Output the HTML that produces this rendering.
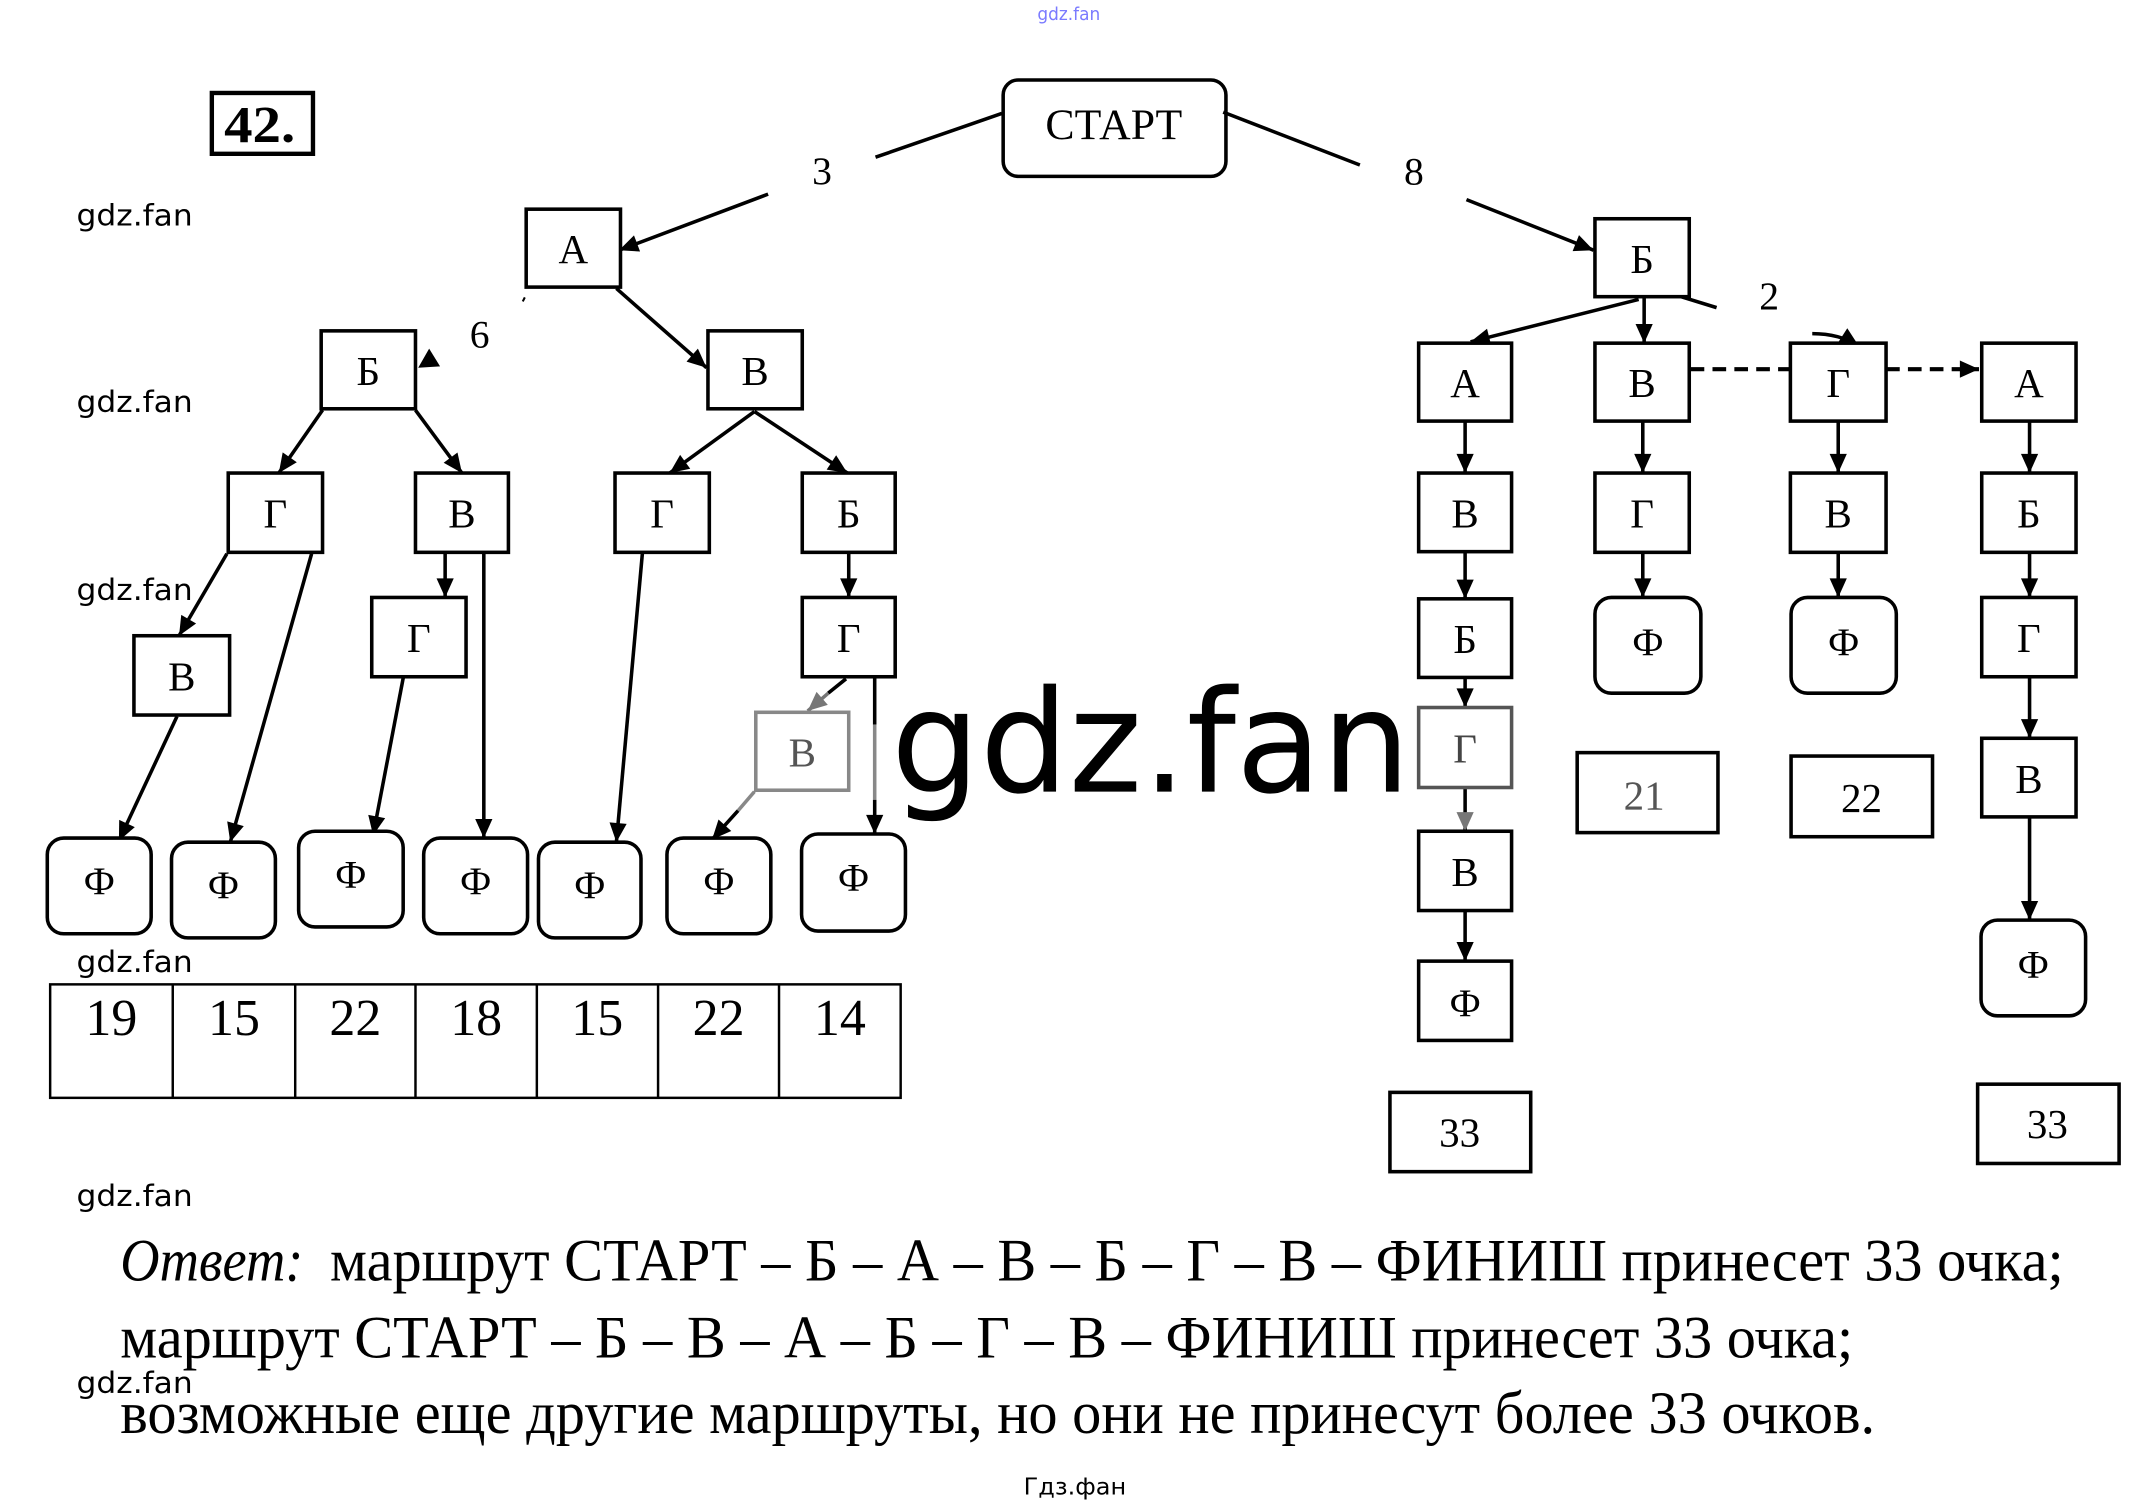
<!DOCTYPE html>
<html><head><meta charset="utf-8"><style>
html,body{margin:0;padding:0;background:#fff;}
svg{display:block;}
.n{font-family:"Liberation Serif","DejaVu Serif",serif;font-size:30px;text-anchor:middle;fill:#000;}
.f{font-family:"Liberation Serif","DejaVu Serif",serif;font-size:29px;text-anchor:middle;fill:#000;}
.w{font-family:"DejaVu Sans","Liberation Sans",sans-serif;font-size:21.5px;fill:#000;}
.t{font-family:"Liberation Serif","DejaVu Serif",serif;font-size:44px;fill:#000;}
</style></head><body>
<svg width="2143" height="1508" viewBox="0 0 1568 1103" preserveAspectRatio="none" xmlns="http://www.w3.org/2000/svg">
<defs>
<marker id="ah" viewBox="0 0 10 10" refX="10" refY="5" markerUnits="userSpaceOnUse" markerWidth="15" markerHeight="14" orient="auto"><path d="M0,0.5 L10,5 L0,9.5 z" fill="#000"/></marker>
<marker id="ag" viewBox="0 0 10 10" refX="10" refY="5" markerUnits="userSpaceOnUse" markerWidth="15" markerHeight="14" orient="auto"><path d="M0,0.5 L10,5 L0,9.5 z" fill="#777"/></marker>
</defs>

<text x="759" y="14.5" font-family="DejaVu Sans, sans-serif" font-size="13" fill="#7a7aff" textLength="46" lengthAdjust="spacingAndGlyphs">gdz.fan</text>

<rect x="155" y="68" width="74" height="44.5" fill="none" stroke="#000" stroke-width="3.2"/>
<text x="164" y="104" font-family="Liberation Serif, serif" font-weight="bold" font-size="38" textLength="52" lengthAdjust="spacingAndGlyphs">42.</text>

<rect x="734" y="58.5" width="163" height="70.5" rx="11" fill="none" stroke="#000" stroke-width="2.6"/>
<text x="815" y="101.5" font-family="Liberation Serif, serif" font-size="32" text-anchor="middle">СТАРТ</text>

<g stroke="#000" stroke-width="2.6" fill="none">
<line x1="733" y1="83" x2="640.6" y2="115"/>
<line x1="562" y1="142" x2="453" y2="183" marker-end="url(#ah)"/>
<line x1="895" y1="82" x2="995" y2="120.7"/>
<line x1="1073" y1="146" x2="1166" y2="183" marker-end="url(#ah)"/>
<line x1="451" y1="211" x2="517" y2="269" marker-end="url(#ah)"/>
<line x1="382.5" y1="220.5" x2="384" y2="217.5" stroke-width="1.5"/>
<line x1="236" y1="300" x2="204" y2="346" marker-end="url(#ah)"/>
<line x1="304" y1="300" x2="338" y2="346" marker-end="url(#ah)"/>
<line x1="552" y1="301" x2="490" y2="346" marker-end="url(#ah)"/>
<line x1="552" y1="301" x2="620" y2="346" marker-end="url(#ah)"/>
<line x1="166" y1="405" x2="131" y2="465" marker-end="url(#ah)"/>
<line x1="228" y1="405" x2="168.5" y2="616" marker-end="url(#ah)"/>
<line x1="129.5" y1="524" x2="87" y2="615" marker-end="url(#ah)"/>
<line x1="325.7" y1="405" x2="325.7" y2="437" marker-end="url(#ah)"/>
<line x1="354" y1="405" x2="354" y2="613" marker-end="url(#ah)"/>
<line x1="295" y1="496" x2="273" y2="611" marker-end="url(#ah)"/>
<line x1="470" y1="405" x2="451" y2="616" marker-end="url(#ah)"/>
<line x1="621" y1="405" x2="621" y2="437" marker-end="url(#ah)"/>
<line x1="619" y1="496.5" x2="606" y2="507"/>
<line x1="606" y1="507" x2="591" y2="520" stroke="#777" marker-end="url(#ag)"/>
<line x1="640" y1="491" x2="640" y2="530"/>
<line x1="640" y1="530" x2="640" y2="585" stroke="#888"/>
<line x1="640" y1="585" x2="640" y2="610" marker-end="url(#ah)"/>
<line x1="552" y1="579" x2="540" y2="593" stroke="#888"/>
<line x1="540" y1="593" x2="521" y2="614" marker-end="url(#ah)"/>

<line x1="1230" y1="217" x2="1256" y2="225"/>
<line x1="1199" y1="219" x2="1076" y2="250" marker-end="url(#ah)"/>
<line x1="1203" y1="218" x2="1203" y2="251" marker-end="url(#ah)"/>
<line x1="1072" y1="308" x2="1072" y2="346" marker-end="url(#ah)"/>
<line x1="1072" y1="403.5" x2="1072" y2="438" marker-end="url(#ah)"/>
<line x1="1072" y1="495.5" x2="1072" y2="517.5" marker-end="url(#ah)"/>
<line x1="1072" y1="576" x2="1072" y2="608" marker-end="url(#ag)"/>
<line x1="1072" y1="666" x2="1072" y2="703" marker-end="url(#ah)"/>
<line x1="1202" y1="308" x2="1202" y2="346" marker-end="url(#ah)"/>
<line x1="1202" y1="404" x2="1202" y2="437" marker-end="url(#ah)"/>
<line x1="1345" y1="308" x2="1345" y2="346" marker-end="url(#ah)"/>
<line x1="1345" y1="404" x2="1345" y2="437" marker-end="url(#ah)"/>
<line x1="1485" y1="308" x2="1485" y2="346" marker-end="url(#ah)"/>
<line x1="1485" y1="404" x2="1485" y2="437" marker-end="url(#ah)"/>
<line x1="1485" y1="495" x2="1485" y2="540" marker-end="url(#ah)"/>
<line x1="1485" y1="597.5" x2="1485" y2="673" marker-end="url(#ah)"/>
<line x1="1237" y1="270" x2="1310" y2="270" stroke-width="3" stroke-dasharray="10 6"/>
<line x1="1380" y1="270" x2="1448" y2="270" stroke-width="3" stroke-dasharray="10 6" marker-end="url(#ah)"/>
<path d="M1326,244 Q1346,244 1360,253" marker-end="url(#ah)"/>
</g>
<polygon points="306,269 314,255 322,268" fill="#000"/>

<text x="601.5" y="134.5" font-family="Liberation Serif, serif" font-size="29" text-anchor="middle">3</text>
<text x="1034.5" y="135" font-family="Liberation Serif, serif" font-size="29" text-anchor="middle">8</text>
<text x="351" y="254" font-family="Liberation Serif, serif" font-size="29" text-anchor="middle">6</text>
<text x="1294.5" y="226" font-family="Liberation Serif, serif" font-size="29" text-anchor="middle">2</text>

<g fill="#fff" stroke="#000" stroke-width="2.6">
<rect x="385" y="153" width="69" height="57"/>
<rect x="235" y="242" width="69" height="57"/>
<rect x="518" y="242" width="69" height="57"/>
<rect x="167" y="346" width="69" height="58"/>
<rect x="304" y="346" width="68" height="58"/>
<rect x="450" y="346" width="69" height="58"/>
<rect x="587" y="346" width="68" height="58"/>
<rect x="98" y="465" width="70" height="58"/>
<rect x="272" y="437" width="69" height="58"/>
<rect x="587" y="437" width="68" height="58"/>
<rect x="553" y="521" width="68" height="57" stroke="#888"/>
<rect x="1167" y="160" width="69" height="57"/>
<rect x="1038" y="251" width="68" height="57"/>
<rect x="1038" y="346" width="68" height="57.5"/>
<rect x="1038" y="438" width="68" height="57.5"/>
<rect x="1038" y="517.5" width="68" height="58.5" stroke="#555"/>
<rect x="1038" y="608" width="68" height="58"/>
<rect x="1038" y="703" width="68" height="58"/>
<rect x="1167" y="251" width="69" height="57"/>
<rect x="1167" y="346" width="69" height="58"/>
<rect x="1310" y="251" width="70" height="57"/>
<rect x="1310" y="346" width="70" height="58"/>
<rect x="1450" y="251" width="69" height="57"/>
<rect x="1450" y="346" width="69" height="58"/>
<rect x="1450" y="437" width="69" height="58"/>
<rect x="1450" y="540" width="69" height="57.5"/>
<rect x="1017" y="799" width="103" height="58"/>
<rect x="1154" y="550.5" width="103" height="58.5"/>
<rect x="1310.5" y="553" width="103.5" height="59"/>
<rect x="1447" y="793" width="103.5" height="58"/>
</g>
<g fill="#fff" stroke="#000" stroke-width="2.6">
<rect x="34.6" y="613" width="76" height="70" rx="12"/>
<rect x="125.5" y="616" width="76" height="70" rx="12"/>
<rect x="218.5" y="608" width="76.5" height="70" rx="12"/>
<rect x="310" y="613" width="76" height="70" rx="12"/>
<rect x="394" y="616" width="75" height="70" rx="12"/>
<rect x="488" y="613" width="76" height="70" rx="12"/>
<rect x="586.5" y="610" width="76" height="71" rx="12"/>
<rect x="1167" y="437" width="77.5" height="70" rx="12"/>
<rect x="1310.5" y="437" width="77" height="70" rx="12"/>
<rect x="1449.5" y="673" width="76.5" height="70" rx="12"/>
</g>

<text class="n" x="419.5" y="192.5">А</text>
<text class="n" x="269.5" y="281.5">Б</text>
<text class="n" x="552.5" y="281.5">В</text>
<text class="n" x="201.5" y="386">Г</text>
<text class="n" x="338" y="386">В</text>
<text class="n" x="484.5" y="386">Г</text>
<text class="n" x="621" y="386">Б</text>
<text class="n" x="133" y="505">В</text>
<text class="n" x="306.5" y="477">Г</text>
<text class="n" x="621" y="477">Г</text>
<text class="n" x="587" y="560.5" style="fill:#555">В</text>
<text class="n" x="1201.5" y="199.5">Б</text>
<text class="n" x="1072" y="290.5">А</text>
<text class="n" x="1072" y="385.7">В</text>
<text class="n" x="1072" y="477.7">Б</text>
<text class="n" x="1072" y="557.7" style="fill:#444">Г</text>
<text class="n" x="1072" y="648">В</text>
<text class="f" x="1072" y="743">Ф</text>
<text class="n" x="1201.5" y="290.5">В</text>
<text class="n" x="1201.5" y="386">Г</text>
<text class="n" x="1345" y="290.5">Г</text>
<text class="n" x="1345" y="386">В</text>
<text class="n" x="1484.5" y="290.5">А</text>
<text class="n" x="1484.5" y="386">Б</text>
<text class="n" x="1484.5" y="477">Г</text>
<text class="n" x="1484.5" y="580">В</text>
<text class="f" x="72.6" y="654">Ф</text>
<text class="f" x="163.5" y="657">Ф</text>
<text class="f" x="256.7" y="649">Ф</text>
<text class="f" x="348" y="654">Ф</text>
<text class="f" x="431.5" y="657">Ф</text>
<text class="f" x="526" y="654">Ф</text>
<text class="f" x="624.5" y="651.5">Ф</text>
<text class="f" x="1205.7" y="479">Ф</text>
<text class="f" x="1349" y="479">Ф</text>
<text class="f" x="1487.7" y="715">Ф</text>
<text class="n" x="1068" y="838.5">33</text>
<text class="n" x="1498" y="832.5">33</text>
<text class="n" x="1203" y="592" style="fill:#555">21</text>
<text class="n" x="1362" y="594">22</text>

<g fill="none" stroke="#000" stroke-width="1.8">
<rect x="36.7" y="720" width="622.3" height="83"/>
<line x1="126.4" y1="720" x2="126.4" y2="803"/>
<line x1="216" y1="720" x2="216" y2="803"/>
<line x1="304" y1="720" x2="304" y2="803"/>
<line x1="392.8" y1="720" x2="392.8" y2="803"/>
<line x1="481.5" y1="720" x2="481.5" y2="803"/>
<line x1="570" y1="720" x2="570" y2="803"/>
</g>
<g font-family="Liberation Serif, serif" font-size="38" text-anchor="middle">
<text x="81.5" y="757">19</text>
<text x="171.2" y="757">15</text>
<text x="260" y="757">22</text>
<text x="348.4" y="757">18</text>
<text x="437" y="757">15</text>
<text x="525.8" y="757">22</text>
<text x="614.5" y="757">14</text>
</g>

<text class="w" x="56" y="165" textLength="85" lengthAdjust="spacingAndGlyphs">gdz.fan</text>
<text class="w" x="56" y="301.5" textLength="85" lengthAdjust="spacingAndGlyphs">gdz.fan</text>
<text class="w" x="56" y="439" textLength="85" lengthAdjust="spacingAndGlyphs">gdz.fan</text>
<text class="w" x="56" y="711" textLength="85" lengthAdjust="spacingAndGlyphs">gdz.fan</text>
<text class="w" x="56" y="882" textLength="85" lengthAdjust="spacingAndGlyphs">gdz.fan</text>
<text class="w" x="56" y="1019" textLength="85" lengthAdjust="spacingAndGlyphs">gdz.fan</text>

<text x="652" y="579" font-family="DejaVu Sans, sans-serif" font-size="104" fill="#000" stroke="#fff" stroke-width="5" paint-order="stroke" textLength="380" lengthAdjust="spacingAndGlyphs">gdz.fan</text>

<text class="t" x="88" y="936.5" font-style="italic" textLength="134" lengthAdjust="spacingAndGlyphs">Ответ:</text>
<text class="t" x="241.5" y="936.5" textLength="1268.5" lengthAdjust="spacingAndGlyphs">маршрут СТАРТ – Б – А – В – Б – Г – В – ФИНИШ принесет 33 очка;</text>
<text class="t" x="88" y="993" textLength="1268" lengthAdjust="spacingAndGlyphs">маршрут СТАРТ – Б – В – А – Б – Г – В – ФИНИШ принесет 33 очка;</text>
<text class="t" x="88" y="1048" textLength="1284" lengthAdjust="spacingAndGlyphs">возможные еще другие маршруты, но они не принесут более 33 очков.</text>

<text x="749" y="1093" font-family="DejaVu Sans, sans-serif" font-size="17" textLength="75" lengthAdjust="spacingAndGlyphs">Гдз.фан</text>
</svg>
</body></html>
